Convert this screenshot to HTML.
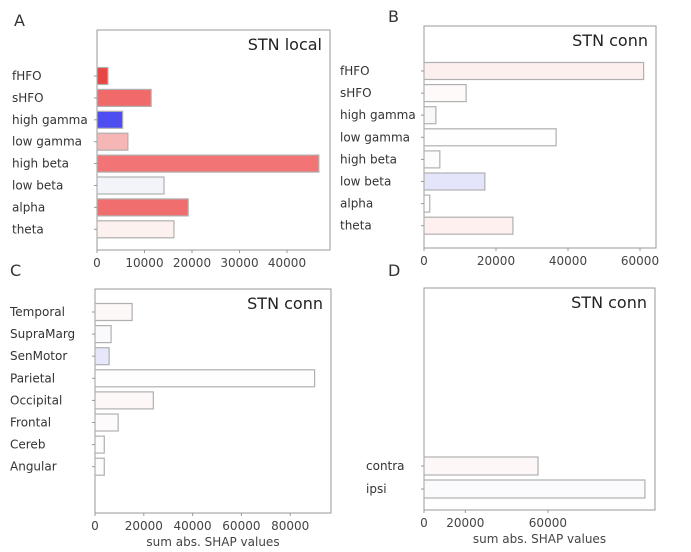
<!DOCTYPE html>
<html><head><meta charset="utf-8"><style>
body{margin:0;background:#fff;}
svg{display:block;font-family:"DejaVu Sans","Liberation Sans",sans-serif;}
</style></head><body>
<svg id="fig" width="691" height="552" viewBox="0 0 691 552"></svg>
<script>
const catsA=["fHFO","sHFO","high gamma","low gamma","high beta","low beta","alpha","theta"];
const valsA=[2300,11400,5400,6500,46700,14100,19200,16200];
const colsA=["#e84545","#f06a6a","#4d4df2","#f6b6b6","#f27474","#f3f4fa","#f06e6e","#fdf1f0"];
const ticksA=[0,10000,20000,30000,40000];
const catsB=["fHFO","sHFO","high gamma","low gamma","high beta","low beta","alpha","theta"];
const valsB=[61000,11700,3300,36700,4400,16900,1600,24700];
const colsB=["#fdefee","#fefafa","#f8f8fa","#fefefe","#fdfcfc","#e4e5fb","#fefefe","#fdf0ef"];
const ticksB=[0,20000,40000,60000];
const catsC=["Temporal","SupraMarg","SenMotor","Parietal","Occipital","Frontal","Cereb","Angular"];
const valsC=[15200,6600,5800,90000,23900,9500,3800,3800];
const colsC=["#fdf8f8","#fafafc","#e6e7fb","#fefefe","#fdf7f7","#fdfbfb","#fcfcfd","#fcfcfd"];
const ticksC=[0,20000,40000,60000,80000];
const catsD=["contra","ipsi"];
const valsD=[55200,107000];
const colsD=["#fdf8f7","#fbfbfd"];
const ticksD=[0,20000,60000];

const NS="http://www.w3.org/2000/svg";
const svg=document.getElementById('fig');
function mk(tag,attrs,parent){const e=document.createElementNS(NS,tag);for(const k in attrs)e.setAttribute(k,attrs[k]);(parent||svg).appendChild(e);return e;}

function panel(p){
  const g=mk('g',{});
  
  
  const xs=v=>p.x0+v*p.pxPer;
  const ys=i=>p.yFirst+i*p.step;
  const fr=mk('rect',{x:p.x0,y:p.top,width:p.right-p.x0,height:p.bottom-p.top,fill:'#fff',stroke:'#999','stroke-width':1},g);
  
  
  p.cats.forEach((c,i)=>{
    const b=mk('rect',{x:xs(0),y:ys(i)-p.bh/2,width:xs(p.vals[i])-xs(0),height:p.bh,fill:p.cols[i],stroke:'#b0b0b0','stroke-width':1.2},g);
    
    
    const t=mk('text',{x:p.labelX,y:ys(i)+4,'font-size':12,fill:'#333'},g);
    t.textContent=c;
    
    
    mk('line',{x1:p.x0-3,x2:p.x0,y1:ys(i),y2:ys(i),stroke:'#999'},g);
  });
  p.ticks.forEach(v=>{
    mk('line',{x1:xs(v),x2:xs(v),y1:p.bottom,y2:p.bottom+3,stroke:'#999'},g);
    const t=mk('text',{x:xs(v),y:p.bottom+17,'font-size':12,fill:'#444','text-anchor':'middle'},g);
    t.textContent=v;
    
    
  });
  const ti=mk('text',{x:p.right-8,y:p.top+20,'font-size':16,fill:'#222','text-anchor':'end'},g);
  ti.textContent=p.title;
  
  
  const L=mk('text',{x:p.lx,y:p.ly,'font-size':16,fill:'#333'},g);
  L.textContent=p.letter;
  
  
  if(p.xlabel){
    const xl=mk('text',{x:(p.x0+p.right)/2,y:p.bottom+33,'font-size':12,fill:'#444','text-anchor':'middle'},g);
    xl.textContent=p.xlabel;
    
    
  }
}
panel({name:'panel-a',cats:catsA,vals:valsA,cols:colsA,ticks:ticksA,x0:97,right:330,top:30,bottom:250,pxPer:47.5/10000,yFirst:76,step:21.9,bh:17,labelX:12,title:'STN local',letter:'A',lx:14,ly:26});
panel({name:'panel-b',cats:catsB,vals:valsB,cols:colsB,ticks:ticksB,x0:424,right:656,top:26,bottom:248,pxPer:72/20000,yFirst:71,step:22.1,bh:17,labelX:340,title:'STN conn',letter:'B',lx:388,ly:22});
panel({name:'panel-c',cats:catsC,vals:valsC,cols:colsC,ticks:ticksC,x0:95,right:331,top:289,bottom:513,pxPer:48.8/20000,yFirst:312,step:22.1,bh:17,labelX:10,title:'STN conn',letter:'C',lx:10,ly:276,xlabel:'sum abs. SHAP values'});
panel({name:'panel-d',cats:catsD,vals:valsD,cols:colsD,ticks:ticksD,x0:424,right:655,top:288,bottom:510,pxPer:41.3/20000,yFirst:466,step:23,bh:18,labelX:366,title:'STN conn',letter:'D',lx:388,ly:276,xlabel:'sum abs. SHAP values'});
</script>
</body></html>
